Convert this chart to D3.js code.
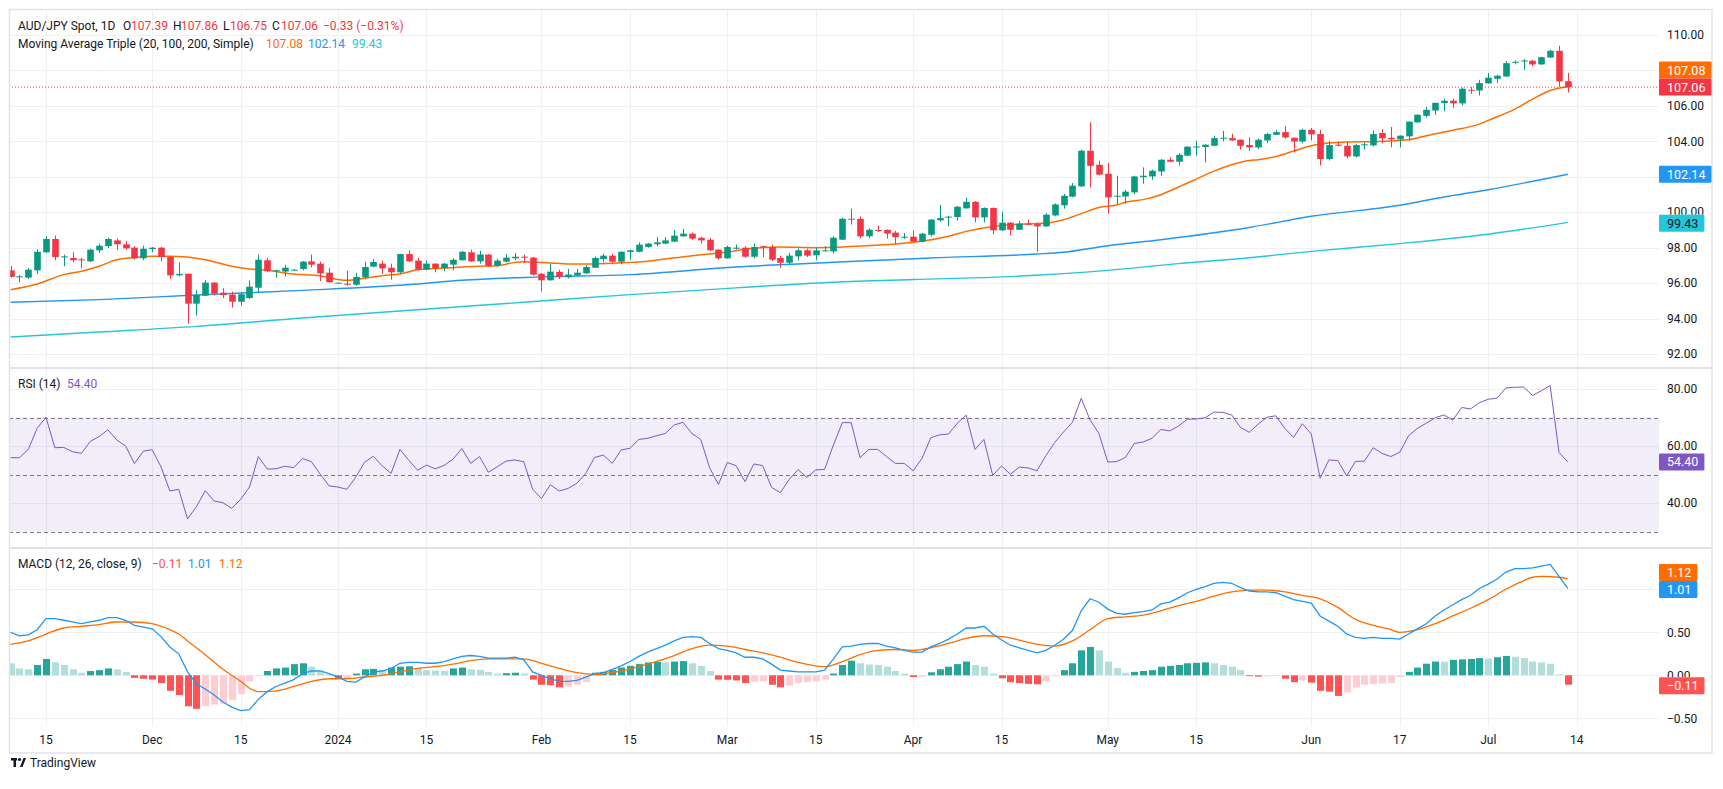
<!DOCTYPE html>
<html><head><meta charset="utf-8">
<script src="https://cdn.jsdelivr.net/npm/d3@7"></script>
<style>
html,body{margin:0;padding:0;background:#fff;}
svg{display:block;font-family:Roboto,"Liberation Sans",sans-serif;}
</style></head><body>
<svg id="chart" width="1723" height="789"></svg>
<script>
// ---------------- DATA ----------------
// daily bars (weekdays) from 2023-11-09 to 2024-07-12; bar number k = 0 is 2023-11-09
const firstDate = "2023-11-09";
const axisEndDate = "2024-07-15";

const open = [
96.72,96.35,96.31,96.72,97.74,98.49,97.47,97.42,97.34,97.23,
97.85,98.09,98.41,98.19,98.00,97.40,97.92,98.00,97.47,96.44,
96.53,94.84,95.29,96.03,95.46,95.35,94.95,95.16,95.74,97.29,
96.68,96.65,96.74,96.80,97.23,97.10,96.59,96.01,95.97,95.91,
96.33,96.93,97.10,96.87,96.61,97.64,97.27,96.76,97.10,96.85,
97.04,97.29,97.74,97.23,97.61,96.98,97.21,97.40,97.49,97.44,
96.53,96.16,96.63,96.33,96.44,96.55,96.87,97.36,97.55,97.21,
97.76,97.77,98.04,98.19,98.23,98.34,98.64,98.79,98.56,98.45,
97.89,97.40,97.96,98.00,97.49,98.08,98.04,97.42,97.15,97.51,
97.85,97.57,97.81,97.79,98.45,99.63,99.63,98.64,99.00,99.01,
98.85,98.58,98.62,98.34,98.73,99.54,99.71,99.73,100.22,100.59,
99.71,100.24,98.98,99.41,99.01,99.35,99.33,99.20,99.82,100.39,
100.88,101.46,103.47,102.68,102.17,100.89,100.89,101.12,101.98,102.02,
102.30,102.96,102.85,103.19,103.68,103.68,103.75,104.17,104.18,104.09,
103.79,103.66,104.05,104.37,104.52,104.20,103.99,104.65,104.41,103.00,
103.81,103.75,103.15,103.79,103.77,104.47,104.20,104.11,104.28,105.07,
105.44,105.74,106.16,106.29,106.14,106.91,106.87,107.27,107.53,107.66,
108.45,108.53,108.55,108.34,108.73,109.11,107.39];
const high = [
96.98,96.46,96.85,97.92,98.64,98.68,97.61,97.74,97.44,97.94,
98.23,98.56,98.51,98.38,98.08,98.11,98.04,98.04,97.51,97.17,
96.53,95.59,96.16,96.06,95.71,95.52,95.48,96.16,97.61,97.42,
96.76,97.04,96.78,97.25,97.61,97.21,96.87,96.03,96.70,96.57,
97.21,97.36,97.27,97.10,97.66,97.85,97.42,97.27,97.12,97.14,
97.40,97.81,97.89,97.83,97.64,97.38,97.64,97.70,97.61,97.47,
96.57,97.10,96.76,96.80,96.80,97.02,97.49,97.66,97.66,97.79,
97.89,98.30,98.25,98.60,98.60,99.01,99.07,98.86,98.62,98.54,
97.91,98.11,98.17,98.08,98.23,98.11,98.17,97.55,97.70,97.96,
97.94,98.00,98.09,98.64,99.69,100.20,99.76,99.09,99.24,99.03,
98.94,98.83,98.96,98.83,99.62,100.42,99.80,100.35,100.82,100.63,
100.27,100.27,100.03,99.43,99.50,99.58,99.41,99.95,100.50,101.03,
101.65,103.53,105.07,102.91,102.77,102.06,101.27,102.06,102.53,102.40,
103.00,103.11,103.34,103.73,104.03,103.83,104.32,104.60,104.43,104.11,
104.24,104.15,104.47,104.65,104.88,104.22,104.71,104.75,104.65,104.03,
103.98,103.96,103.86,103.93,104.62,104.69,104.81,104.34,105.13,105.52,
105.95,106.19,106.40,106.40,107.04,107.06,107.47,107.85,107.76,108.53,
108.56,108.64,108.60,108.77,109.17,109.39,107.86];
const low = [
96.31,96.05,96.23,96.50,97.70,97.29,96.95,97.17,96.83,97.19,
97.70,97.98,97.85,97.89,97.32,97.29,97.74,97.23,96.23,96.38,
93.71,94.17,95.26,95.29,95.16,94.62,94.73,95.10,95.44,96.63,
96.31,96.38,96.72,96.72,96.89,96.12,96.01,95.99,95.86,95.86,
96.23,96.89,96.52,96.20,96.52,97.17,96.72,96.72,96.61,96.67,
96.72,97.27,97.19,97.10,96.91,96.93,97.17,97.29,97.14,96.42,
95.52,96.14,96.23,96.27,96.38,96.52,96.85,97.17,97.15,97.06,
97.32,97.74,98.00,98.08,98.19,98.32,98.62,98.45,98.23,97.81,
97.32,97.38,97.89,97.44,97.40,97.47,97.25,96.87,97.06,97.29,
97.47,97.29,97.78,97.66,98.43,99.30,98.53,98.53,98.88,98.51,
98.21,98.49,98.32,98.30,98.64,99.47,99.20,99.52,100.20,99.43,
99.43,98.75,98.94,98.70,98.99,99.27,97.77,99.17,99.77,100.20,
100.84,101.42,101.40,102.08,99.92,100.46,100.48,101.01,101.61,101.83,
102.06,102.81,102.62,103.17,103.19,102.81,103.73,104.00,104.03,103.53,
103.45,103.56,103.90,104.35,104.15,103.38,103.90,104.05,102.64,102.92,
103.72,103.04,103.09,103.53,103.71,103.88,103.66,103.66,104.05,105.05,
105.35,105.50,105.70,105.90,106.03,106.68,106.59,107.25,107.29,107.64,
108.34,108.04,108.23,108.32,108.71,107.08,106.75];
const close = [
96.35,96.38,96.76,97.77,98.49,97.47,97.51,97.29,97.30,97.89,
98.11,98.49,98.19,97.96,97.40,97.94,98.00,97.47,96.44,96.52,
94.84,95.33,96.03,95.41,95.33,94.95,95.37,95.80,97.32,96.67,
96.72,96.87,96.76,97.21,97.04,96.55,96.05,96.02,95.91,96.35,
96.91,97.19,96.83,96.61,97.64,97.23,96.76,97.10,96.85,97.10,
97.32,97.77,97.23,97.61,96.98,97.27,97.44,97.49,97.47,96.48,
96.16,96.65,96.35,96.48,96.59,96.91,97.42,97.55,97.21,97.77,
97.85,98.17,98.23,98.30,98.41,98.68,98.79,98.51,98.41,97.85,
97.40,98.04,98.00,97.49,98.04,98.04,97.32,97.15,97.55,97.85,
97.55,97.85,97.85,98.56,99.63,99.58,98.64,99.01,98.94,98.79,
98.60,98.62,98.34,98.79,99.58,99.67,99.75,100.31,100.59,99.71,
100.24,98.98,99.41,99.01,99.35,99.30,99.20,99.86,100.44,100.93,
101.50,103.47,102.62,102.12,100.84,100.93,101.16,102.02,102.06,102.34,
102.96,102.85,103.24,103.70,103.71,103.81,104.18,104.20,104.05,103.75,
103.66,104.09,104.41,104.52,104.22,103.99,104.65,104.39,103.00,103.79,
103.75,103.15,103.79,103.83,104.41,104.17,104.11,104.32,105.11,105.50,
105.78,106.17,106.29,106.14,106.97,106.87,107.29,107.59,107.70,108.41,
108.49,108.56,108.34,108.75,109.11,107.38,107.06];

// moving averages read at sample bars: [bar number k, value]
const ma20 = [[0,95.63],[3,95.95],[6,96.48],[8,96.67],[10,96.95],[12,97.32],[14,97.44],[16,97.51],[18,97.51],[22,97.32],[25,96.95],[27,96.80],[29,96.72],[32,96.51],[35,96.42],[36,96.30],[38,96.16],[40,96.27],[42,96.42],[44,96.51],[46,96.76],[49,96.85],[53,96.95],[55,96.98],[57,97.17],[58,97.21],[61,97.14],[63,97.08],[66,97.08],[70,97.17],[72,97.23],[74,97.36],[77,97.55],[80,97.70],[82,97.83],[83,97.92],[87,98.04],[91,98.00],[93,98.02],[96,98.09],[100,98.21],[103,98.36],[106,98.64],[108,98.92],[111,99.20],[114,99.33],[117,99.39],[119,99.58],[121,99.92],[123,100.27],[125,100.41],[126,100.56],[128,100.71],[130,100.99],[132,101.42],[134,101.87],[136,102.32],[138,102.68],[140,102.92],[141,102.96],[143,103.15],[145,103.45],[147,103.75],[149,103.90],[151,103.96],[154,103.98],[158,104.09],[160,104.32],[163,104.62],[166,104.97],[167,105.18],[170,105.82],[172,106.38],[174,106.87],[176,107.08]];
const ma100 = [[0,94.92],[10,95.07],[21,95.33],[33,95.59],[46,95.95],[51,96.16],[60,96.35],[70,96.48],[82,96.91],[93,97.18],[104,97.42],[116,97.64],[119,97.74],[124,98.11],[130,98.45],[140,99.14],[147,99.77],[157,100.39],[162,100.86],[167,101.27],[176,102.14]];
const ma200 = [[0,92.96],[10,93.24],[21,93.56],[33,94.03],[46,94.50],[58,94.92],[70,95.35],[82,95.73],[93,96.05],[102,96.20],[112,96.35],[124,96.72],[132,97.10],[140,97.43],[147,97.79],[157,98.23],[167,98.76],[176,99.43]];

const rsi = [
55.9,55.9,58.8,66.2,70.1,59.4,59.5,58.0,57.4,61.6,
63.3,65.7,62.1,60.0,53.8,58.2,58.7,52.7,44.2,44.8,
34.4,38.7,44.3,40.7,40.1,38.1,41.3,45.6,56.3,51.9,
52.0,52.9,52.4,55.6,54.5,50.1,46.0,45.6,44.8,49.0,
54.3,56.4,53.0,50.4,58.8,55.0,51.5,53.3,52.0,53.2,
55.4,59.1,53.9,56.3,50.8,52.7,54.7,55.1,54.5,44.8,
41.6,46.4,44.2,45.1,46.9,50.4,56.0,56.8,53.9,58.6,
59.2,62.3,62.7,63.6,64.4,67.4,68.3,64.4,62.3,52.4,
46.5,54.2,53.1,47.5,53.7,53.1,45.5,43.6,48.3,51.7,
49.0,51.6,51.8,60.4,68.2,68.2,55.9,58.8,58.8,56.3,
53.9,53.9,51.3,55.6,62.9,63.9,64.2,68.0,70.8,58.8,
62.3,49.7,53.0,50.1,52.6,52.3,51.3,56.6,61.2,64.9,
68.3,76.7,69.1,64.4,54.4,54.5,56.0,60.9,61.4,62.7,
65.8,65.3,67.0,69.4,69.5,69.9,71.9,71.8,70.9,66.5,
64.8,67.7,70.1,70.6,66.2,63.0,67.8,64.2,48.7,55.1,
54.9,49.5,54.6,54.7,59.4,57.4,56.3,57.8,63.6,66.2,
68.0,69.9,70.9,69.1,73.5,73.0,75.2,76.4,76.8,80.4,
80.6,80.7,77.7,79.4,81.2,57.7,54.4];

const macd = [
0.50,0.46,0.47,0.53,0.66,0.66,0.64,0.62,0.60,0.62,
0.64,0.67,0.67,0.64,0.58,0.56,0.54,0.45,0.33,0.25,
0.04,-0.10,-0.16,-0.23,-0.31,-0.37,-0.41,-0.40,-0.28,-0.19,
-0.13,-0.09,-0.05,0.02,0.05,0.05,0.02,-0.02,-0.07,-0.08,
-0.02,0.04,0.05,0.08,0.14,0.15,0.15,0.14,0.14,0.16,
0.19,0.22,0.23,0.22,0.20,0.20,0.20,0.21,0.18,0.04,
0.00,-0.04,-0.07,-0.07,-0.06,-0.02,0.02,0.03,0.07,0.11,
0.16,0.22,0.27,0.31,0.35,0.40,0.44,0.45,0.44,0.37,
0.31,0.29,0.26,0.21,0.21,0.19,0.13,0.06,0.05,0.04,
0.04,0.04,0.06,0.19,0.33,0.34,0.36,0.37,0.37,0.34,
0.32,0.29,0.27,0.27,0.33,0.37,0.42,0.48,0.55,0.55,
0.57,0.48,0.41,0.35,0.32,0.29,0.26,0.29,0.35,0.42,
0.52,0.75,0.89,0.85,0.77,0.72,0.71,0.73,0.74,0.76,
0.83,0.85,0.90,0.96,1.00,1.03,1.07,1.08,1.07,1.02,
0.98,0.97,0.97,0.96,0.92,0.88,0.86,0.84,0.69,0.63,
0.57,0.48,0.44,0.43,0.44,0.43,0.43,0.42,0.48,0.54,
0.60,0.69,0.76,0.82,0.88,0.93,1.01,1.06,1.12,1.20,
1.24,1.24,1.25,1.27,1.29,1.15,1.01];
// signal line read at sample bars: [k, value]
const signal = [[0,0.36],[2,0.40],[4,0.48],[6,0.55],[8,0.57],[10,0.59],[12,0.62],[14,0.62],[16,0.60],[18,0.53],[19,0.48],[20,0.40],[22,0.24],[24,0.07],[26,-0.07],[27,-0.15],[28,-0.19],[30,-0.18],[32,-0.13],[34,-0.07],[36,-0.04],[38,-0.04],[40,-0.02],[42,0.00],[44,0.04],[46,0.08],[48,0.10],[50,0.13],[52,0.17],[54,0.19],[56,0.19],[58,0.19],[60,0.14],[62,0.08],[64,0.03],[66,0.01],[69,0.05],[72,0.13],[75,0.23],[77,0.31],[79,0.35],[81,0.34],[83,0.30],[85,0.26],[87,0.21],[89,0.15],[91,0.11],[92,0.10],[94,0.16],[96,0.24],[98,0.29],[100,0.30],[102,0.29],[104,0.32],[106,0.37],[108,0.43],[110,0.46],[112,0.45],[114,0.41],[116,0.36],[118,0.34],[120,0.40],[122,0.53],[124,0.66],[126,0.68],[128,0.70],[130,0.75],[132,0.81],[134,0.86],[136,0.92],[138,0.97],[140,0.99],[142,0.99],[144,0.97],[146,0.93],[148,0.89],[150,0.79],[152,0.65],[154,0.58],[156,0.53],[157,0.50],[159,0.53],[161,0.60],[163,0.69],[165,0.78],[167,0.88],[169,1.00],[171,1.10],[172,1.14],[173,1.15],[175,1.14],[176,1.12]];
const hist = [
0.14,0.08,0.07,0.12,0.19,0.15,0.12,0.07,0.03,0.05,
0.06,0.08,0.07,0.04,-0.03,-0.04,-0.05,-0.09,-0.18,-0.23,
-0.36,-0.39,-0.36,-0.34,-0.33,-0.29,-0.22,-0.07,-0.01,0.05,
0.08,0.09,0.13,0.14,0.10,0.04,0.01,-0.04,-0.035,0.02,
0.07,0.075,0.06,0.09,0.10,0.105,0.08,0.06,0.055,0.05,
0.08,0.09,0.07,0.065,0.04,0.02,0.025,0.03,0.02,-0.05,
-0.11,-0.115,-0.14,-0.13,-0.11,-0.08,0.03,0.04,0.06,0.09,
0.11,0.13,0.15,0.155,0.15,0.16,0.165,0.14,0.11,0.05,
-0.05,-0.052,-0.06,-0.09,-0.075,-0.07,-0.11,-0.14,-0.12,-0.09,
-0.08,-0.07,-0.05,0.02,0.12,0.17,0.14,0.125,0.12,0.10,
0.05,0.02,-0.02,-0.015,0.035,0.07,0.10,0.13,0.16,0.12,
0.10,0.02,-0.035,-0.08,-0.09,-0.10,-0.105,-0.07,-0.01,0.06,
0.14,0.29,0.33,0.29,0.16,0.085,0.03,0.04,0.05,0.06,
0.10,0.11,0.12,0.14,0.145,0.15,0.14,0.12,0.10,0.06,
-0.01,-0.015,-0.012,-0.01,-0.04,-0.08,-0.06,-0.085,-0.18,-0.19,
-0.24,-0.20,-0.14,-0.11,-0.10,-0.097,-0.09,-0.02,0.04,0.09,
0.135,0.16,0.158,0.18,0.185,0.19,0.20,0.195,0.21,0.225,
0.215,0.20,0.16,0.15,0.135,0.01,-0.11];

const xTickDates  = ["2023-11-15","2023-12-01","2023-12-15","2024-01-01","2024-01-15","2024-02-01","2024-02-15","2024-03-01","2024-03-15","2024-04-01","2024-04-15","2024-05-01","2024-05-15","2024-06-03","2024-06-17","2024-07-01","2024-07-15"];
const xTickLabels = ["15","Dec","15","2024","15","Feb","15","Mar","15","Apr","15","May","15","Jun","17","Jul","14"];
const priceTicks = [92,94,96,98,100,102,104,106,108,110];
const rsiTicks = [40,60,80];
const macdTicks = [-0.5,0,0.5,1.0];
const lastValues = {close:107.06, ma20:107.08, ma100:102.14, ma200:99.43, rsi:54.40, macd:1.01, signal:1.12, hist:-0.11};

// ---------------- LAYOUT ----------------
const C = {up:"#089981", down:"#f23645", ma20:"#ff6d00", ma100:"#2196f3", ma200:"#26c6da",
  rsi:"#7e57c2", macd:"#2196f3", sig:"#ff6d00", grid:"#eef0f4", border:"#e0e3eb", text:"#131722",
  hUpGrow:"#26a69a", hUpFall:"#b2dfdb", hDnGrow:"#ffcdd2", hDnFall:"#ff5252"};
const PL = 9, PR = 1659, AX = 1667;
const pane = {price:[10,368], rsi:[368,548], macd:[548,726]};

const svg = d3.select("#chart");
const parse = d3.timeParse("%Y-%m-%d");
const days = d3.timeDay.range(parse(firstDate), d3.timeDay.offset(parse(axisEndDate),1))
  .filter(d => d.getDay() !== 0 && d.getDay() !== 6);
const fmtKey = d3.timeFormat("%Y-%m-%d");
const dayIndex = new Map(days.map((d,i)=>[fmtKey(d), i]));

const x = d3.scaleLinear().domain([-0.18, 186.3]).range([PL, PR]);
const yP = d3.scaleLinear().domain([92,110]).range([354,35]);
const yR = d3.scaleLinear().domain([40,80]).range([503,389]);
const yM = d3.scaleLinear().domain([-0.5,0.5]).range([718.3,632.3]);

const defs = svg.append("defs");
Object.entries(pane).forEach(([k,[t,b]])=>{
  defs.append("clipPath").attr("id","clip-"+k).append("rect")
    .attr("x",PL).attr("y",t).attr("width",PR-PL).attr("height",b-t);
});
// clip for axis labels so that those sitting under a value badge stay hidden behind it
defs.append("clipPath").attr("id","clip-axis").append("rect").attr("x",PR).attr("y",10).attr("width",60).attr("height",716);

// gridlines
const gGrid = svg.append("g");
xTickDates.forEach(d=>{
  const xx = Math.round(x(dayIndex.get(d)))+0.5;
  gGrid.append("line").attr("x1",xx).attr("x2",xx).attr("y1",10).attr("y2",726).attr("stroke",C.grid);
});
function hgrid(ticks, sc){ ticks.forEach(t=>{ const yy=Math.round(sc(t))+0.5;
  gGrid.append("line").attr("x1",PL).attr("x2",PR).attr("y1",yy).attr("y2",yy).attr("stroke",C.grid);});}
hgrid(priceTicks,yP); hgrid(rsiTicks,yR); hgrid(macdTicks,yM);

// ---------------- PRICE PANE ----------------
const gP = svg.append("g").attr("clip-path","url(#clip-price)");
const lineXY = (sc)=> d3.line().x(d=>x(d[0])).y(d=>sc(d[1])).curve(d3.curveMonotoneX);
gP.append("path").datum(ma200).attr("d",lineXY(yP)).attr("fill","none").attr("stroke",C.ma200).attr("stroke-width",1.4);
gP.append("path").datum(ma100).attr("d",lineXY(yP)).attr("fill","none").attr("stroke",C.ma100).attr("stroke-width",1.4);
gP.append("path").datum(ma20).attr("d",lineXY(yP)).attr("fill","none").attr("stroke",C.ma20).attr("stroke-width",1.5);

const bars = open.map((o,i)=>({k:i,o,h:high[i],l:low[i],c:close[i]}));
const bw = 6.6;
const cg = gP.selectAll("g.c").data(bars).join("g");
cg.append("line").attr("x1",d=>Math.round(x(d.k))+0.5).attr("x2",d=>Math.round(x(d.k))+0.5)
  .attr("y1",d=>yP(d.h)).attr("y2",d=>yP(d.l)).attr("stroke",d=>d.c>=d.o?C.up:C.down).attr("stroke-width",1);
cg.append("rect").attr("x",d=>Math.round(x(d.k))+0.5-bw/2).attr("width",bw)
  .attr("y",d=>yP(Math.max(d.o,d.c))).attr("height",d=>Math.max(1,Math.abs(yP(d.o)-yP(d.c))))
  .attr("fill",d=>d.c>=d.o?C.up:C.down);

// last price dotted line
svg.append("line").attr("x1",PL).attr("x2",PR).attr("y1",yP(lastValues.close)).attr("y2",yP(lastValues.close))
  .attr("stroke",C.down).attr("stroke-dasharray","1,2").attr("stroke-width",1);

// ---------------- RSI PANE ----------------
const gR = svg.append("g").attr("clip-path","url(#clip-rsi)");
gR.append("rect").attr("x",PL).attr("width",PR-PL).attr("y",yR(70)).attr("height",yR(30)-yR(70))
  .attr("fill","rgba(126,87,194,0.1)");
[70,50,30].forEach(v=>gR.append("line").attr("x1",PL).attr("x2",PR).attr("y1",Math.round(yR(v))+0.5).attr("y2",Math.round(yR(v))+0.5)
  .attr("stroke","#787b86").attr("stroke-dasharray","4,3"));
gR.append("path").datum(rsi).attr("d",d3.line().x((d,i)=>x(i)).y(d=>yR(d)))
  .attr("fill","none").attr("stroke",C.rsi).attr("stroke-width",1);

// ---------------- MACD PANE ----------------
const gM = svg.append("g").attr("clip-path","url(#clip-macd)");
gM.selectAll("rect.h").data(hist).join("rect")
  .attr("x",(d,i)=>Math.round(x(i))+0.5-3.5).attr("width",7)
  .attr("y",d=>Math.min(yM(d),yM(0))).attr("height",d=>Math.max(0.8,Math.abs(yM(d)-yM(0))))
  .attr("fill",(d,i)=>{ const p = i>0?hist[i-1]:d+1; 
     return d>=0 ? (d>p?C.hUpGrow:C.hUpFall) : (d>p?C.hDnGrow:C.hDnFall);});
gM.append("path").datum(signal).attr("d",lineXY(yM)).attr("fill","none").attr("stroke",C.sig).attr("stroke-width",1.3);
gM.append("path").datum(macd).attr("d",d3.line().x((d,i)=>x(i)).y(d=>yM(d)))
  .attr("fill","none").attr("stroke",C.macd).attr("stroke-width",1.3);

// ---------------- FRAME ----------------
svg.append("rect").attr("x",9.5).attr("y",9.5).attr("width",1712-9.5).attr("height",753-9.5)
  .attr("fill","none").attr("stroke",C.border).attr("stroke-width",1.5);
[368,548].forEach(yy=>svg.append("line").attr("x1",9.5).attr("x2",1712).attr("y1",yy).attr("y2",yy)
  .attr("stroke",C.border).attr("stroke-width",2));

// ---------------- AXES ----------------
const gA = svg.append("g").attr("font-size",12).attr("fill",C.text);
const fmt2 = v=>d3.format(".2f")(v).replace("-","\u2212");
// value badges (y centres), used to keep covered tick labels hidden like the original
const badges = [
  [yP(lastValues.close)-17, fmt2(lastValues.ma20), C.ma20, "#fff"],
  [yP(lastValues.close), fmt2(lastValues.close), C.down, "#fff"],
  [yP(lastValues.ma100), fmt2(lastValues.ma100), C.ma100, "#fff"],
  [yP(lastValues.ma200)+1, fmt2(lastValues.ma200), C.ma200, C.text],
  [yR(lastValues.rsi), fmt2(lastValues.rsi), C.rsi, "#fff"],
  [yM(lastValues.macd)+1-17, fmt2(lastValues.signal), C.sig, "#fff"],
  [yM(lastValues.macd)+1, fmt2(lastValues.macd), C.macd, "#fff"],
  [yM(lastValues.hist)+1, fmt2(lastValues.hist), C.hDnFall, "#fff"]];
function axisLabels(ticks, sc){
  ticks.forEach(t=>{
    const yy = sc(t);
    // a label almost fully covered by a badge is not shown (as in the original)
    const covered = badges.some(b=>Math.abs(b[0]-yy) < 7);
    if(covered) return;
    // a label partly covered: only the visible part is drawn
    const part = badges.find(b=>Math.abs(b[0]-yy) < 16);
    const t1 = gA.append("text").attr("x",AX).attr("y",yy).attr("dy","0.35em").text(fmt2(t));
    if(part){
      const top = part[0] > yy ? 0 : part[0]+8.5, bot = part[0] > yy ? part[0]-8.5 : 789;
      const id = "cl"+Math.round(yy);
      defs.append("clipPath").attr("id",id).append("rect").attr("x",PR).attr("y",top).attr("width",60).attr("height",bot-top);
      t1.attr("clip-path","url(#"+id+")");
    }
  });
}
axisLabels(priceTicks,yP); axisLabels(rsiTicks,yR); axisLabels(macdTicks,yM);
xTickDates.forEach((d,i)=>gA.append("text").attr("x",x(dayIndex.get(d))).attr("y",744).attr("text-anchor","middle").text(xTickLabels[i]));

badges.forEach(([yc, txt, bg, fg])=>{
  const g = svg.append("g");
  const t = g.append("text").attr("x",AX).attr("y",yc).attr("dy","0.36em").attr("font-size",12.5).attr("fill",fg).text(txt);
  const w = t.node().getComputedTextLength();
  g.insert("rect","text").attr("x",PR).attr("y",yc-8.5).attr("width",w+(AX-PR)+6).attr("height",17).attr("rx",1).attr("fill",bg);
});

// ---------------- LEGENDS ----------------
const gL = svg.append("g").attr("font-size",12).attr("fill",C.text);
function legend(y, parts){ parts.forEach(([xx,txt,col])=>gL.append("text").attr("x",xx).attr("y",y).attr("fill",col||C.text).text(txt)); }
legend(29.5, [[18,"AUD/JPY Spot, 1D"],[123,"O"],[131,"107.39",C.down],[173,"H"],[181,"107.86",C.down],[223,"L"],[230,"106.75",C.down],[272,"C"],[281,"107.06",C.down],[323,"\u22120.33 (\u22120.31%)",C.down]]);
legend(47.5, [[18,"Moving Average Triple (20, 100, 200, Simple)"],[266,"107.08",C.ma20],[308,"102.14",C.ma100],[352,"99.43",C.ma200]]);
legend(387.5, [[18,"RSI (14)"],[67,"54.40",C.rsi]]);
legend(567.5, [[18,"MACD (12, 26, close, 9)"],[152,"\u22120.11",C.hDnFall],[188,"1.01",C.macd],[219,"1.12",C.sig]]);

// ---------------- LOGO ----------------
const gLogo = svg.append("g").attr("fill",C.text);
gLogo.append("rect").attr("x",11).attr("y",758).attr("width",6).attr("height",2.5);
gLogo.append("rect").attr("x",13.5).attr("y",758).attr("width",2.5).attr("height",9);
gLogo.append("circle").attr("cx",19.5).attr("cy",759.5).attr("r",1.6);
gLogo.append("path").attr("d","M20 767 L23.5 758 L26 758 L22.5 767 Z");
gLogo.append("text").attr("x",30).attr("y",767).attr("font-size",12).text("TradingView");
</script>
</body></html>
